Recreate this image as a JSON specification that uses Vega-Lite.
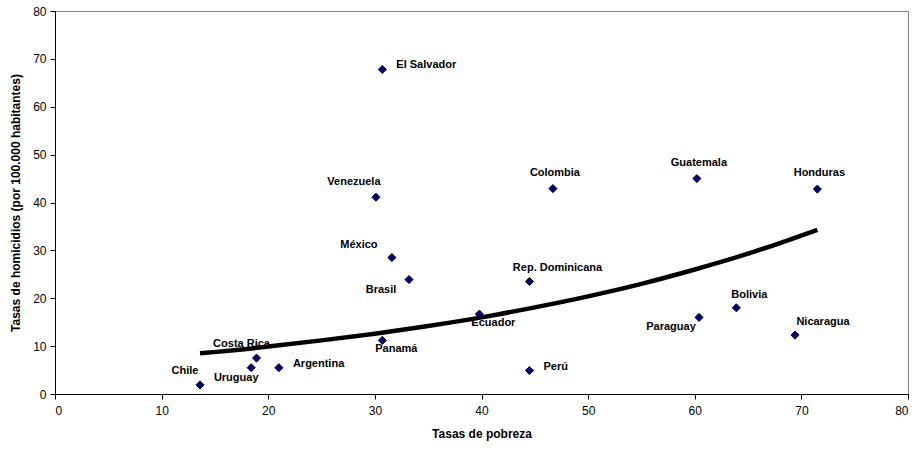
{
  "$schema": "https://vega.github.io/schema/vega-lite/v6.json",
  "width": 853,
  "height": 383,
  "autosize": {"type": "none"},
  "padding": {"left": 55, "top": 11, "right": 8, "bottom": 56},
  "background": "white",
  "config": {
    "font": "Liberation Sans",
    "view": {"stroke": "#808080", "strokeWidth": 1},
    "axis": {
      "grid": false,
      "domainColor": "black",
      "tickColor": "black",
      "labelColor": "black",
      "titleColor": "black",
      "labelFont": "Liberation Sans",
      "titleFont": "Liberation Sans",
      "labelFontSize": 12,
      "titleFontSize": 12,
      "titleFontWeight": "bold",
      "tickSize": 5
    }
  },
  "datasets": {
    "paises": [
      {"pais": "Chile", "pobreza": 13.6, "homicidios": 1.9},
      {"pais": "Uruguay", "pobreza": 18.4, "homicidios": 5.5},
      {"pais": "Costa Rica", "pobreza": 18.9, "homicidios": 7.5},
      {"pais": "Argentina", "pobreza": 21.0, "homicidios": 5.5},
      {"pais": "Panamá", "pobreza": 30.7, "homicidios": 11.2},
      {"pais": "Brasil", "pobreza": 33.2, "homicidios": 23.9},
      {"pais": "México", "pobreza": 31.6, "homicidios": 28.5},
      {"pais": "El Salvador", "pobreza": 30.7, "homicidios": 67.8},
      {"pais": "Venezuela", "pobreza": 30.1, "homicidios": 41.1},
      {"pais": "Colombia", "pobreza": 46.7, "homicidios": 42.9},
      {"pais": "Guatemala", "pobreza": 60.2, "homicidios": 45.0},
      {"pais": "Honduras", "pobreza": 71.5, "homicidios": 42.8},
      {"pais": "Rep. Dominicana", "pobreza": 44.5, "homicidios": 23.5},
      {"pais": "Ecuador", "pobreza": 39.8, "homicidios": 16.7},
      {"pais": "Perú", "pobreza": 44.5, "homicidios": 4.9},
      {"pais": "Paraguay", "pobreza": 60.4, "homicidios": 16.0},
      {"pais": "Bolivia", "pobreza": 63.9, "homicidios": 18.0},
      {"pais": "Nicaragua", "pobreza": 69.4, "homicidios": 12.3}
    ],
    "tendencia": [
      {"pobreza": 13.6, "homicidios": 8.5},
      {"pobreza": 20, "homicidios": 9.9},
      {"pobreza": 25, "homicidios": 11.2},
      {"pobreza": 30, "homicidios": 12.6},
      {"pobreza": 35, "homicidios": 14.2},
      {"pobreza": 40, "homicidios": 16.0},
      {"pobreza": 45, "homicidios": 18.1},
      {"pobreza": 50, "homicidios": 20.4},
      {"pobreza": 55, "homicidios": 23.0},
      {"pobreza": 60, "homicidios": 26.0},
      {"pobreza": 65, "homicidios": 29.3},
      {"pobreza": 71.5, "homicidios": 34.3}
    ]
  },
  "encoding": {
    "x": {
      "field": "pobreza", "type": "quantitative",
      "scale": {"domain": [0, 80], "nice": false, "zero": false},
      "axis": {"values": [0, 10, 20, 30, 40, 50, 60, 70, 80], "title": "Tasas de pobreza", "labelPadding": 6, "titlePadding": 12}
    },
    "y": {
      "field": "homicidios", "type": "quantitative",
      "scale": {"domain": [0, 80], "nice": false, "zero": false},
      "axis": {"values": [0, 10, 20, 30, 40, 50, 60, 70, 80], "title": "Tasas de homicidios (por 100.000 habitantes)", "labelPadding": 4, "titlePadding": 10}
    }
  },
  "layer": [
    {
      "data": {"name": "tendencia"},
      "mark": {"type": "line", "color": "black", "strokeWidth": 4.5, "interpolate": "monotone"}
    },
    {
      "data": {"name": "paises"},
      "mark": {"type": "point", "shape": "diamond", "filled": true, "fill": "#000080", "stroke": "black", "strokeWidth": 1, "size": 65, "opacity": 1}
    },
    {
      "data": {"name": "paises"},
      "transform": [{"filter": {"field": "pais", "oneOf": ["El Salvador", "Argentina", "Perú"]}}],
      "mark": {"type": "text", "align": "left", "baseline": "middle", "dx": 14, "dy": -4, "fontSize": 11, "fontWeight": "bold", "color": "black"},
      "encoding": {"text": {"field": "pais"}}
    },
    {
      "data": {"name": "paises"},
      "transform": [{"filter": {"field": "pais", "oneOf": ["Colombia", "Guatemala", "Honduras"]}}],
      "mark": {"type": "text", "align": "center", "baseline": "middle", "dx": 2, "dy": -16, "fontSize": 11, "fontWeight": "bold", "color": "black"},
      "encoding": {"text": {"field": "pais"}}
    },
    {
      "data": {"name": "paises"},
      "transform": [{"filter": {"field": "pais", "oneOf": ["Costa Rica", "Chile"]}}],
      "mark": {"type": "text", "align": "center", "baseline": "middle", "dx": -15, "dy": -14, "fontSize": 11, "fontWeight": "bold", "color": "black"},
      "encoding": {"text": {"field": "pais"}}
    },
    {
      "data": {"name": "paises"},
      "transform": [{"filter": {"field": "pais", "oneOf": ["Venezuela"]}}],
      "mark": {"type": "text", "align": "center", "baseline": "middle", "dx": -22, "dy": -15, "fontSize": 11, "fontWeight": "bold", "color": "black"},
      "encoding": {"text": {"field": "pais"}}
    },
    {
      "data": {"name": "paises"},
      "transform": [{"filter": {"field": "pais", "oneOf": ["México"]}}],
      "mark": {"type": "text", "align": "center", "baseline": "middle", "dx": -33, "dy": -13, "fontSize": 11, "fontWeight": "bold", "color": "black"},
      "encoding": {"text": {"field": "pais"}}
    },
    {
      "data": {"name": "paises"},
      "transform": [{"filter": {"field": "pais", "oneOf": ["Rep. Dominicana", "Nicaragua"]}}],
      "mark": {"type": "text", "align": "center", "baseline": "middle", "dx": 28, "dy": -13, "fontSize": 11, "fontWeight": "bold", "color": "black"},
      "encoding": {"text": {"field": "pais"}}
    },
    {
      "data": {"name": "paises"},
      "transform": [{"filter": {"field": "pais", "oneOf": ["Bolivia"]}}],
      "mark": {"type": "text", "align": "center", "baseline": "middle", "dx": 13, "dy": -13, "fontSize": 11, "fontWeight": "bold", "color": "black"},
      "encoding": {"text": {"field": "pais"}}
    },
    {
      "data": {"name": "paises"},
      "transform": [{"filter": {"field": "pais", "oneOf": ["Brasil", "Paraguay"]}}],
      "mark": {"type": "text", "align": "center", "baseline": "middle", "dx": -28, "dy": 10, "fontSize": 11, "fontWeight": "bold", "color": "black"},
      "encoding": {"text": {"field": "pais"}}
    },
    {
      "data": {"name": "paises"},
      "transform": [{"filter": {"field": "pais", "oneOf": ["Panamá", "Ecuador"]}}],
      "mark": {"type": "text", "align": "center", "baseline": "middle", "dx": 14, "dy": 9, "fontSize": 11, "fontWeight": "bold", "color": "black"},
      "encoding": {"text": {"field": "pais"}}
    },
    {
      "data": {"name": "paises"},
      "transform": [{"filter": {"field": "pais", "oneOf": ["Uruguay"]}}],
      "mark": {"type": "text", "align": "center", "baseline": "middle", "dx": -15, "dy": 10, "fontSize": 11, "fontWeight": "bold", "color": "black"},
      "encoding": {"text": {"field": "pais"}}
    }
  ]
}
